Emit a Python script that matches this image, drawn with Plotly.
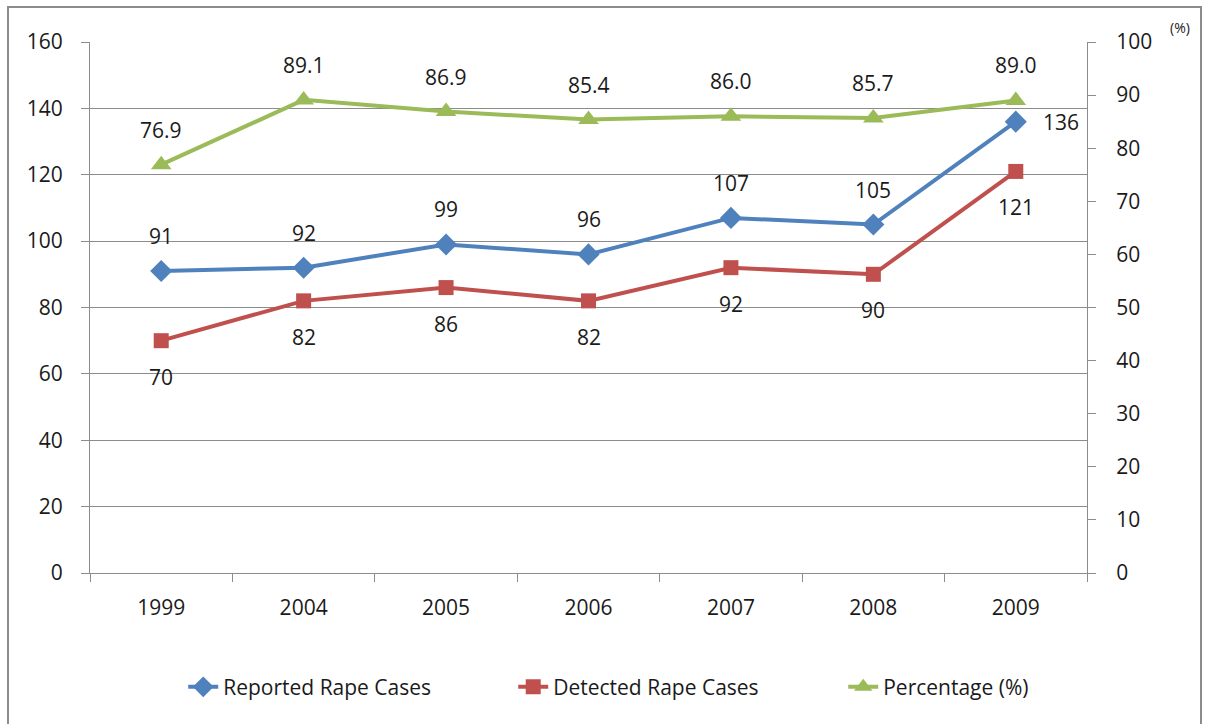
import plotly.graph_objs as go

years = ['1999', '2004', '2005', '2006', '2007', '2008', '2009']
reported = [91, 92, 99, 96, 107, 105, 136]
detected = [70, 82, 86, 82, 92, 90, 121]
percentage = [76.9, 89.1, 86.9, 85.4, 86.0, 85.7, 89.0]

colors = {
    'blue': '#4F81BD',
    'red': '#C0504D',
    'green': '#9BBB59',
    'grid': '#8C8C8C',
    'text': '#1a1a1a',
}
font_family = "'Open Sans', Lato, sans-serif"
fsize = 21

fig = go.Figure()
fig.add_trace(go.Scatter(
    x=years, y=reported, name='Reported Rape Cases', mode='lines+markers',
    line=dict(color=colors['blue'], width=4),
    marker=dict(symbol='diamond', size=17, color=colors['blue'])
))
fig.add_trace(go.Scatter(
    x=years, y=detected, name='Detected Rape Cases', mode='lines+markers',
    line=dict(color=colors['red'], width=4),
    marker=dict(symbol='square', size=15, color=colors['red'])
))
fig.add_trace(go.Scatter(
    x=years, y=percentage, name='Percentage (%)', mode='lines+markers',
    line=dict(color=colors['green'], width=4),
    marker=dict(symbol='triangle-up', size=18, color=colors['green']),
    yaxis='y2'
))

# data labels (category index used for x so numeric-looking years aren't misread)
annotations = []
lbl_font = dict(family=font_family, size=fsize, color=colors['text'])
last = len(years) - 1
for i, v in enumerate(reported):
    if i == last:
        annotations.append(dict(x=i, y=v, text=str(v), showarrow=False,
                                xshift=45, yshift=0, font=lbl_font))
    else:
        annotations.append(dict(x=i, y=v, text=str(v), showarrow=False,
                                yshift=35, font=lbl_font))
for i, v in enumerate(detected):
    annotations.append(dict(x=i, y=v, text=str(v), showarrow=False,
                            yshift=-36, font=lbl_font))
for i, v in enumerate(percentage):
    annotations.append(dict(x=i, y=v, yref='y2', text=f"{v:.1f}", showarrow=False,
                            yshift=35, font=lbl_font))
annotations.append(dict(x=1.093, y=1.006, xref='paper', yref='paper', text='(%)',
                        showarrow=False, xanchor='center', yanchor='bottom',
                        font=dict(family=font_family, size=14, color=colors['text'])))

axis_common = dict(
    showline=True, linecolor=colors['grid'], linewidth=1,
    ticks='outside', ticklen=8, tickcolor=colors['grid'],
    tickfont=dict(family=font_family, size=fsize, color=colors['text']),
)

fig.update_layout(
    width=1205, height=724,
    margin=dict(l=90, r=118, t=42, b=151),
    plot_bgcolor='white', paper_bgcolor='white',
    font=dict(family=font_family, size=fsize, color=colors['text']),
    xaxis=dict(type='category', range=[-0.5, 6.5], tickson='boundaries',
               showgrid=False, ticklabelstandoff=16, **axis_common),
    yaxis=dict(range=[0, 160], dtick=20, showgrid=True, gridcolor=colors['grid'],
               gridwidth=1, zeroline=False, ticklabelstandoff=14, **axis_common),
    yaxis2=dict(range=[0, 100], dtick=10, overlaying='y', side='right',
                showgrid=False, zeroline=False, ticklabelstandoff=16, **axis_common),
    legend=dict(orientation='h', x=0.59, y=-0.215, xanchor='center', yanchor='middle',
                font=dict(family=font_family, size=fsize, color=colors['text']),
                entrywidth=285, tracegroupgap=0),
    showlegend=True,
    annotations=annotations,
    shapes=[dict(type='rect', xref='paper', yref='paper',
                 x0=(8 - 90) / 997, x1=(1201 - 90) / 997,
                 y0=(573 - 760) / 531, y1=(573 - 7) / 531,
                 line=dict(color='#8C8C8C', width=2), layer='below')],
)

# drop the default 8px body margin so the 1205x724 figure fills the window exactly
fig.write_html("out.html",
               config={'displayModeBar': False},
               post_script="document.body.style.margin='0';document.body.style.overflow='hidden';")
